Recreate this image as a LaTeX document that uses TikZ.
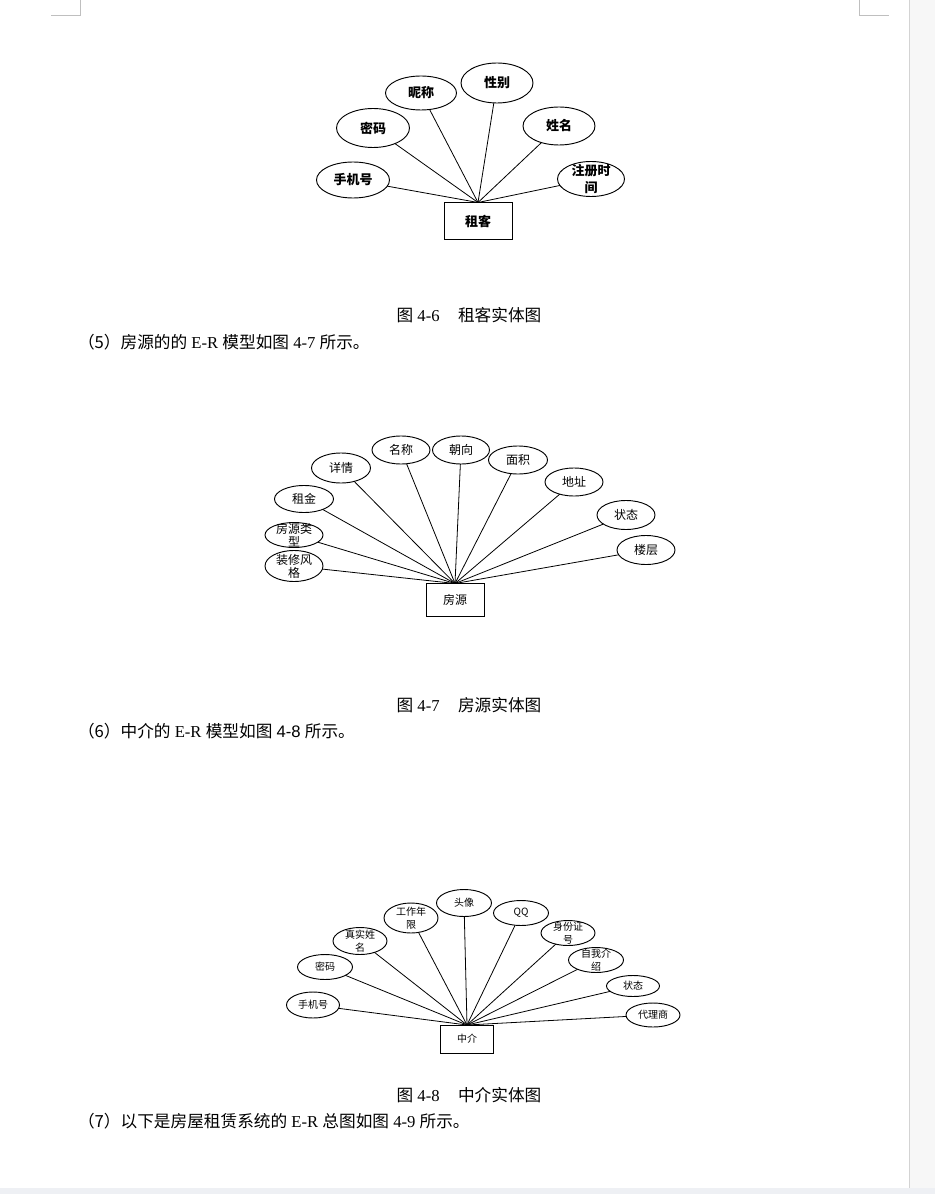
\documentclass[tikz,border=0pt]{standalone}
\usepackage{fontspec}
\setmainfont{Liberation Serif}
\setsansfont{Liberation Sans}
\newfontfamily\cjk{Noto Sans CJK SC}
\usetikzlibrary{shapes.geometric}
\tikzset{erpx/.style={x=0.75pt,y=-0.75pt,every node/.style={inner sep=0pt,outer sep=0pt,anchor=center,align=center}}}
\definecolor{erline}{HTML}{000000}
\definecolor{pgmark}{HTML}{BFBFBF}
\definecolor{pgside}{HTML}{F7F7F7}
\definecolor{pgsep}{HTML}{D3D3D3}
\definecolor{pgfoot}{HTML}{EEF0F4}
\tikzset{
  shuxing/.style={ellipse,draw=erline,line width=0.7pt},
  shiti/.style={rectangle,draw=erline,line width=0.7pt},
  lianxian/.style={draw=erline,line width=0.6pt},
  titi/.style={font=\fontsize{12.5}{15}\selectfont},
  zhengwen/.style={anchor=west,font=\fontsize{12.5}{15}\selectfont},
  yebian/.style={draw=pgmark,line width=0.75pt},
}

\begin{document}
\begin{tikzpicture}[erpx,
  zkwz/.style={font=\cjk\bfseries\fontsize{9.75}{12.75}\selectfont},
  fywz/.style={font=\cjk\fontsize{9}{9.75}\selectfont},
  zjwz/.style={font=\cjk\fontsize{7.5}{9.5}\selectfont}]
  \useasboundingbox (0,0) rectangle (935,1194);
  \fill[pgside] (909,0) rectangle (935,1188);
  \draw[pgsep,line width=0.75pt] (909,0) -- (909,1188);
  \fill[pgfoot] (0,1188) rectangle (935,1194);
  \draw[yebian] (80,0) -- (80,16) -- (51,16);
  \draw[yebian] (859,0) -- (859,16) -- (889,16);

  \node[shiti,zkwz,minimum width=51pt,minimum height=27.75pt] (zk) at (478,221) {租客};
  \foreach \n/\x/\y/\w/\h/\wz in {sjh/353/180/73/36/手机号,mm/373/128/73/39/密码,nc/421/93/71/34/昵称,
      xb/497/83/72/40/性别,xm/559/126/72/38/姓名,zcsj/591/179/67/35/{注册时\\间}}{
    \node[shuxing,minimum width=0.75pt*\w,minimum height=0.75pt*\h,label={[zkwz]center:\wz}] (zk\n) at (\x,\y) {};
    \draw[lianxian] (zk\n) -- (zk.north);
  }
  \node[titi] (tu6) at (469,315) {{\cjk 图} 4-6\hspace{1.1em}{\cjk 租客实体图}};
  \node[zhengwen] (wz5) at (78,342) {{\cjk （5）房源的的} E-R {\cjk 模型如图} 4-7 {\cjk 所示。}};

  \node[shiti,fywz,minimum width=43.5pt,minimum height=24.75pt] (fy) at (455,600) {房源};
  \foreach \n/\x/\y/\w/\h/\wz in {zxfg/294/566/58/31/{装修风\\格},fylx/294/535/58/25/{房源类\\型},zj/304/499/59/27/租金,
      xq/341/468/59/30/详情,mc/401/450/58/28/名称,cx/461/450/57/28/朝向,mj/518/460/59/28/面积,
      dz/574/482/58/28/地址,zt/626/515/58/29/状态,lc/646/550/58/29/楼层}{
    \node[shuxing,minimum width=0.75pt*\w,minimum height=0.75pt*\h,label={[fywz]center:\wz}] (fy\n) at (\x,\y) {};
    \draw[lianxian] (fy\n) -- (fy.north);
  }
  \node[titi] (tu7) at (469,705) {{\cjk 图} 4-7\hspace{1.1em}{\cjk 房源实体图}};
  \node[zhengwen] (wz6) at (78,731) {{\cjk （6）中介的} E-R {\cjk 模型如图} {\sffamily 4-8} {\cjk 所示。}};

  \node[shiti,zjwz,minimum width=39.75pt,minimum height=21pt] (zj) at (467,1039) {中介};
  \foreach \n/\x/\y/\w/\h/\wz in {sjh/313/1005/53/26/手机号,mm/325/967/55/25/密码,zsxm/360/941/54/27/{真实姓\\名},
      gznx/411/918/54/30/{工作年\\限},tx/464/903/55/27/头像,qq/521/913/55/25/QQ,sfzh/568/933/54/25/{身份证\\号},
      zwjs/596/960/55/25/{自我介\\绍},zt/633/986/53/21/状态,dls/653/1015/54/24/代理商}{
    \node[shuxing,minimum width=0.75pt*\w,minimum height=0.75pt*\h,label={[zjwz]center:\wz}] (zj\n) at (\x,\y) {};
    \draw[lianxian] (zj\n) -- (zj.north);
  }
  \node[titi] (tu8) at (469,1095) {{\cjk 图} 4-8\hspace{1.1em}{\cjk 中介实体图}};
  \node[zhengwen] (wz7) at (78,1121) {{\cjk （7）以下是房屋租赁系统的} E-R {\cjk 总图如图} 4-9 {\cjk 所示。}};
\end{tikzpicture}
\end{document}
